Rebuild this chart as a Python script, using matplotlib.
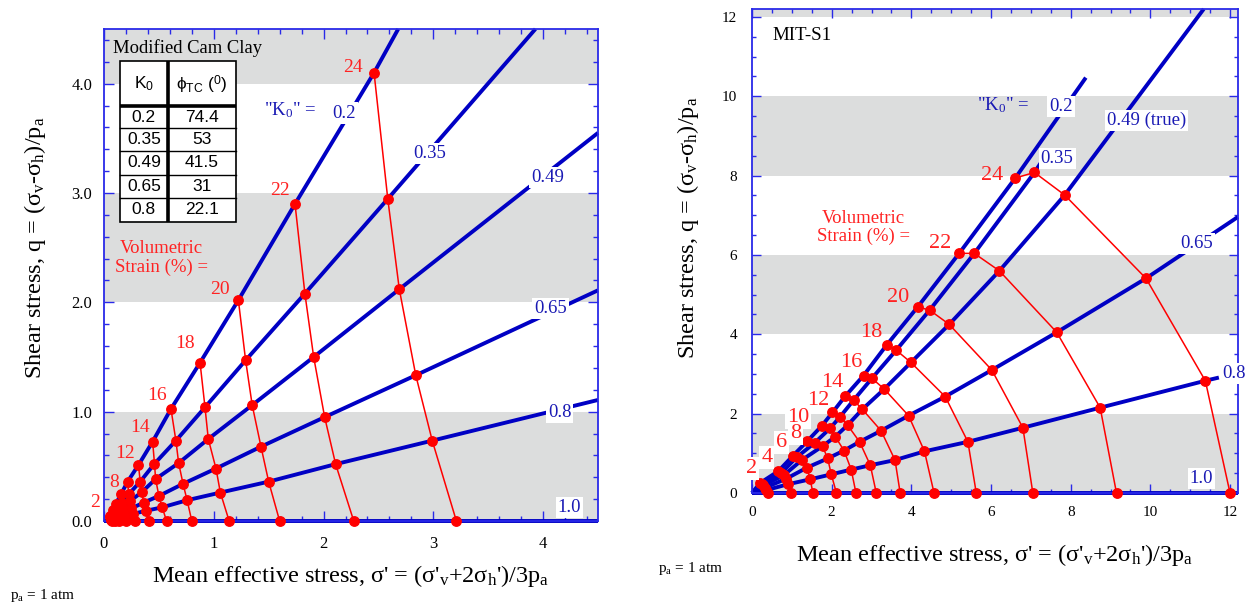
import matplotlib
matplotlib.use("Agg")
import matplotlib.pyplot as plt
from matplotlib.ticker import MultipleLocator, FormatStrFormatter

plt.rcParams['font.family'] = ['Liberation Serif', 'DejaVu Serif']
plt.rcParams['mathtext.fontset'] = 'custom'
plt.rcParams['mathtext.rm'] = 'Liberation Serif'
plt.rcParams['mathtext.it'] = 'Liberation Serif:italic'
plt.rcParams['mathtext.bf'] = 'Liberation Serif:bold'
plt.rcParams['mathtext.sf'] = 'Liberation Sans'

# ---------------- data ----------------
k0_names = ['0.2', '0.35', '0.49', '0.65', '0.8', '1.0']
strains = [2, 4, 6, 8, 10, 12, 14, 16, 18, 20, 22, 24]

# Modified Cam Clay (left panel): points at each volumetric strain
mcc_p_k020 = [0.055, 0.078, 0.107, 0.155, 0.215, 0.314, 0.443, 0.61, 0.875, 1.224, 1.74, 2.46]
mcc_q_k020 = [0.05, 0.10, 0.155, 0.245, 0.36, 0.512, 0.726, 1.025, 1.448, 2.02, 2.90, 4.10]
mcc_p_k035 = [0.058, 0.082, 0.113, 0.162, 0.225, 0.33, 0.46, 0.655, 0.92, 1.29, 1.83, 2.585]
mcc_q_k035 = [0.035, 0.065, 0.105, 0.165, 0.245, 0.36, 0.524, 0.735, 1.04, 1.47, 2.08, 2.946]
mcc_p_k049 = [0.06, 0.085, 0.118, 0.17, 0.235, 0.345, 0.47, 0.68, 0.95, 1.35, 1.91, 2.69]
mcc_q_k049 = [0.025, 0.047, 0.078, 0.125, 0.18, 0.265, 0.384, 0.53, 0.75, 1.06, 1.50, 2.12]
mcc_p_k065 = [0.062, 0.09, 0.125, 0.18, 0.25, 0.36, 0.50, 0.72, 1.02, 1.43, 2.01, 2.84]
mcc_q_k065 = [0.015, 0.03, 0.05, 0.08, 0.115, 0.168, 0.229, 0.34, 0.48, 0.68, 0.95, 1.333]
mcc_p_k080 = [0.065, 0.095, 0.13, 0.19, 0.265, 0.38, 0.53, 0.757, 1.06, 1.50, 2.11, 2.99]
mcc_q_k080 = [0.01, 0.02, 0.03, 0.045, 0.065, 0.093, 0.125, 0.19, 0.26, 0.36, 0.52, 0.735]
mcc_p_k100 = [0.07, 0.10, 0.14, 0.20, 0.28, 0.41, 0.57, 0.80, 1.14, 1.60, 2.275, 3.21]
mcc_q_k100 = [0.0, 0.0, 0.0, 0.0, 0.0, 0.0, 0.0, 0.0, 0.0, 0.0, 0.0, 0.0]
mcc_start_p = [0.04, 0.04, 0.04, 0.04, 0.04, 0.0]
mcc_start_q = [0.0, 0.0, 0.0, 0.0, 0.0, 0.0]
mcc_end_p = [2.68, 3.93, 4.5, 4.5, 4.5, 4.5]
mcc_end_q = [4.5, 4.5, 3.55, 2.11, 1.107, 0.0]

# MIT-S1 (right panel)
mit_p_k020 = [0.20, 0.66, 1.02, 1.39, 1.75, 2.02, 2.34, 2.80, 3.38, 4.16, 5.20, 6.61]
mit_q_k020 = [0.25, 0.55, 0.93, 1.31, 1.69, 2.03, 2.44, 2.96, 3.73, 4.69, 6.04, 7.94]
mit_p_k035 = [0.24, 0.74, 1.12, 1.58, 1.96, 2.21, 2.55, 3.01, 3.62, 4.46, 5.58, 7.09]
mit_q_k035 = [0.23, 0.51, 0.90, 1.27, 1.63, 1.92, 2.34, 2.89, 3.60, 4.61, 6.04, 8.08]
mit_p_k049 = [0.28, 0.80, 1.25, 1.77, 2.09, 2.40, 2.77, 3.32, 3.99, 4.95, 6.21, 7.85]
mit_q_k049 = [0.19, 0.45, 0.83, 1.18, 1.42, 1.71, 2.11, 2.62, 3.29, 4.25, 5.60, 7.51]
mit_p_k065 = [0.32, 0.86, 1.38, 1.90, 2.31, 2.70, 3.24, 3.93, 4.85, 6.02, 7.65, 9.89]
mit_q_k065 = [0.13, 0.36, 0.64, 0.87, 1.07, 1.29, 1.57, 1.95, 2.43, 3.10, 4.05, 5.41]
mit_p_k080 = [0.35, 0.90, 1.46, 1.99, 2.49, 2.97, 3.59, 4.33, 5.42, 6.80, 8.74, 11.38]
mit_q_k080 = [0.07, 0.22, 0.345, 0.47, 0.59, 0.70, 0.83, 1.05, 1.29, 1.645, 2.15, 2.83]
mit_p_k100 = [0.39, 0.98, 1.53, 2.12, 2.61, 3.12, 3.72, 4.57, 5.63, 7.05, 9.15, 12.0]
mit_q_k100 = [0.0, 0.0, 0.0, 0.0, 0.0, 0.0, 0.0, 0.0, 0.0, 0.0, 0.0, 0.0]
mit_start_p = [0.0, 0.0, 0.0, 0.0, 0.0, 0.0]
mit_start_q = [0.0, 0.0, 0.0, 0.0, 0.0, 0.0]
mit_end_p = [8.38, 7.40, 11.34, 12.2, 11.72, 12.2]
mit_end_q = [10.47, 8.55, 12.2, 6.96, 2.91, 0.0]

# table in the left panel
table_k0 = ['0.2', '0.35', '0.49', '0.65', '0.8']
table_phi = ['74.4', '53', '41.5', '31', '22.1']

# ---------------- style ----------------
BLUE = '#0000c4'
SPINE = '#2a2ae8'
RED = '#ff0000'
RTXT = '#ff2222'
LBLUE = '#1a1ab4'
GRAY = '#dcdddd'

W, H = 1256, 607
fig = plt.figure(figsize=(W / 100, H / 100), dpi=100)


def px_axes(l, t, r, b):
    return fig.add_axes([l / W, 1 - b / H, (r - l) / W, (b - t) / H])


axL = px_axes(104, 29, 598, 521)
axR = px_axes(752, 9, 1238, 493)


def style(ax, xmax, ymax, xmaj, xmin, ymaj, ymin, xfmt, yfmt, lsize,
          maj_len, min_len, xpad, ypad):
    ax.set_xlim(0, xmax)
    ax.set_ylim(0, ymax)
    ax.xaxis.set_major_locator(MultipleLocator(xmaj))
    ax.xaxis.set_minor_locator(MultipleLocator(xmin))
    ax.yaxis.set_major_locator(MultipleLocator(ymaj))
    ax.yaxis.set_minor_locator(MultipleLocator(ymin))
    ax.xaxis.set_major_formatter(FormatStrFormatter(xfmt))
    ax.yaxis.set_major_formatter(FormatStrFormatter(yfmt))
    ax.tick_params(which='both', direction='in', top=True, right=True,
                   color=SPINE, width=1.0, labelsize=lsize, labelcolor='black')
    ax.tick_params(which='major', length=maj_len)
    ax.tick_params(which='minor', length=min_len)
    ax.tick_params(axis='x', which='both', pad=xpad)
    ax.tick_params(axis='y', which='both', pad=ypad)
    for s in ax.spines.values():
        s.set_color(SPINE)
        s.set_linewidth(1.3)


style(axL, 4.5, 4.5, 1, 0.2, 1, 0.2, '%d', '%.1f', 12, 7.2, 3.6, 11, 8.5)
style(axR, 12.2, 12.2, 2, 0.5, 2, 0.5, '%d', '%d', 11, 6.7, 3.2, 9.5, 10.5)

for lo, hi in [(0, 1), (2, 3), (4, 5)]:
    axL.axhspan(lo, hi, facecolor=GRAY, edgecolor='none', zorder=0)
for lo, hi in [(0, 2), (4, 6), (8, 10), (12, 14)]:
    axR.axhspan(lo, hi, facecolor=GRAY, edgecolor='none', zorder=0)


def draw_family(ax, p_lists, q_lists, sp, sq, ep, eq):
    for p, q, a, b, c, d in zip(p_lists, q_lists, sp, sq, ep, eq):
        ax.plot([a] + p + [c], [b] + q + [d], color=BLUE, lw=2.8, zorder=2,
                clip_on=False, solid_capstyle='butt', solid_joinstyle='round')
    for j in range(len(strains)):
        xs = [p[j] for p in p_lists]
        ys = [q[j] for q in q_lists]
        ax.plot(xs, ys, color=RED, lw=1.1, marker='o', ms=6.8, mfc=RED,
                mec=RED, zorder=3, clip_on=False)


mcc_p = [mcc_p_k020, mcc_p_k035, mcc_p_k049, mcc_p_k065, mcc_p_k080, mcc_p_k100]
mcc_q = [mcc_q_k020, mcc_q_k035, mcc_q_k049, mcc_q_k065, mcc_q_k080, mcc_q_k100]
mit_p = [mit_p_k020, mit_p_k035, mit_p_k049, mit_p_k065, mit_p_k080, mit_p_k100]
mit_q = [mit_q_k020, mit_q_k035, mit_q_k049, mit_q_k065, mit_q_k080, mit_q_k100]

draw_family(axL, mcc_p, mcc_q, mcc_start_p, mcc_start_q, mcc_end_p, mcc_end_q)
draw_family(axR, mit_p, mit_q, mit_start_p, mit_start_q, mit_end_p, mit_end_q)

WB = dict(facecolor='white', edgecolor='none', pad=1.5)

# ---- left panel text ----
axL.text(0.079, 4.28, 'Modified Cam Clay', fontsize=13.4, color='black',
         ha='left', va='baseline', zorder=6)
axL.text(1.46, 3.71, '"K$_{\\mathrm{0}}$" =', fontsize=13.5, color=LBLUE,
         ha='left', va='baseline', zorder=6)
left_blue_pos = [(2.19, 3.69), (2.97, 3.32), (4.04, 3.10), (4.07, 1.90),
                 (4.15, 0.954), (4.24, 0.085)]
for name, (x, y) in zip(k0_names, left_blue_pos):
    axL.text(x, y, name, fontsize=13.5, color=LBLUE, ha='center',
             va='baseline', bbox=WB, zorder=6)

left_red_labels = ['24', '22', '20', '18', '16', '14', '12', '8', '2']
left_red_pos = [(2.27, 4.11), (1.60, 2.98), (1.06, 2.08), (0.736, 1.58),
                (0.486, 1.107), (0.327, 0.817), (0.19, 0.574), (0.09, 0.314),
                (-0.085, 0.131)]
for s, (x, y) in zip(left_red_labels, left_red_pos):
    axL.text(x, y, s, fontsize=14, color=RTXT, ha='center', va='baseline',
             zorder=6)
axL.text(0.524, 2.45, 'Volumetric', fontsize=13.5, color=RTXT, ha='center',
         va='baseline', zorder=6)
axL.text(0.527, 2.28, 'Strain (%) =', fontsize=13.5, color=RTXT, ha='center',
         va='baseline', zorder=6)

# ---- right panel text ----
axR.text(0.52, 11.43, 'MIT-S1', fontsize=13.6, color='black', ha='left',
         va='baseline', zorder=6)
axR.text(5.65, 9.65, '"K$_{\\mathrm{0}}$" =', fontsize=13.5, color=LBLUE,
         ha='left', va='baseline', zorder=6)
right_blue_text = ['0.2', '0.35', '0.49 (true)', '0.65', '0.8', '1.0']
right_blue_pos = [(7.76, 9.62, 'center'), (7.66, 8.31, 'center'),
                  (8.91, 9.27, 'left'), (11.17, 6.17, 'center'),
                  (11.80, 2.89, 'left'), (11.28, 0.25, 'center')]
for s, (x, y, ha) in zip(right_blue_text, right_blue_pos):
    axR.text(x, y, s, fontsize=13.5, color=LBLUE, ha=ha, va='baseline',
             bbox=WB, zorder=6)

right_red_labels = ['24', '22', '20', '18', '16', '14', '12', '10', '8', '6', '4', '2']
right_red_pos = [(6.04, 7.88), (4.72, 6.17), (3.68, 4.82), (2.99, 3.94),
                 (2.50, 3.18), (2.02, 2.66), (1.67, 2.22), (1.16, 1.80),
                 (1.10, 1.38), (0.75, 1.15), (0.37, 0.79), (-0.01, 0.50)]
for s, (x, y) in zip(right_red_labels, right_red_pos):
    bb = WB if int(s) <= 10 else None
    axR.text(x, y, s, fontsize=16, color=RTXT, ha='center', va='baseline',
             bbox=bb, zorder=6)
axR.text(2.80, 6.80, 'Volumetric', fontsize=13.5, color=RTXT, ha='center',
         va='baseline', zorder=6)
axR.text(2.79, 6.35, 'Strain (%) =', fontsize=13.5, color=RTXT, ha='center',
         va='baseline', zorder=6)

# ---- axis labels ----
ylab = 'Shear stress, q = (σ$_{\\mathrm{v}}$-σ$_{\\mathrm{h}}$)/p$_{\\mathrm{a}}$'
xlab = "Mean effective stress, σ' = (σ'$_{\\mathrm{v}}$+2σ$_{\\mathrm{h}}$')/3p$_{\\mathrm{a}}$"
fig.text(35 / W, 1 - 248 / H, ylab, rotation=90, fontsize=17.5, ha='center', va='center')
fig.text(688 / W, 1 - 228 / H, ylab, rotation=90, fontsize=17.5, ha='center', va='center')
fig.text(351 / W, 1 - 582 / H, xlab, fontsize=17.5, ha='center', va='baseline')
fig.text(995 / W, 1 - 561 / H, xlab, fontsize=17.5, ha='center', va='baseline')
fig.text(10 / W, 1 - 599 / H, 'p$_{\\mathrm{a}}$ = 1 atm', fontsize=11, ha='left', va='baseline')
fig.text(658 / W, 1 - 572 / H, 'p$_{\\mathrm{a}}$ = 1 atm', fontsize=11, ha='left', va='baseline')

# ---- table overlay (pixel coordinates) ----
ov = fig.add_axes([0, 0, 1, 1], zorder=10)
ov.set_xlim(0, W)
ov.set_ylim(H, 0)
ov.axis('off')
tl, tr, tt, tb = 119.5, 235.7, 61, 221.7
colx = 168.3
hdr = 106
rows = [hdr, 128.3, 151, 174.5, 198.3, tb]
ov.add_patch(plt.Rectangle((tl, tt), tr - tl, tb - tt, facecolor='white',
                           edgecolor='black', lw=1.2))
ov.plot([colx, colx], [tt, tb], color='black', lw=2.6, solid_capstyle='butt')
ov.plot([tl, tr], [hdr, hdr], color='black', lw=2.6, solid_capstyle='butt')
for y in rows[1:-1]:
    ov.plot([tl, tr], [y, y], color='black', lw=1.0)
SANS = ['Liberation Sans', 'DejaVu Sans']
ov.text((tl + colx) / 2, 84, 'K$_{\\mathsf{0}}$', fontsize=12.5, family=SANS,
        ha='center', va='center')
ov.text((colx + tr) / 2, 85, 'ϕ$_{\\mathsf{TC}}$ ($^{\\mathsf{0}}$)', fontsize=12.5,
        family=SANS, ha='center', va='center')
for i, (a, b) in enumerate(zip(table_k0, table_phi)):
    yc = (rows[i] + rows[i + 1]) / 2
    ov.text((tl + colx) / 2, yc, a, fontsize=12.5, family=SANS, ha='center', va='center')
    ov.text((colx + tr) / 2, yc, b, fontsize=12.5, family=SANS, ha='center', va='center')

fig.savefig('out.png', dpi=100)
